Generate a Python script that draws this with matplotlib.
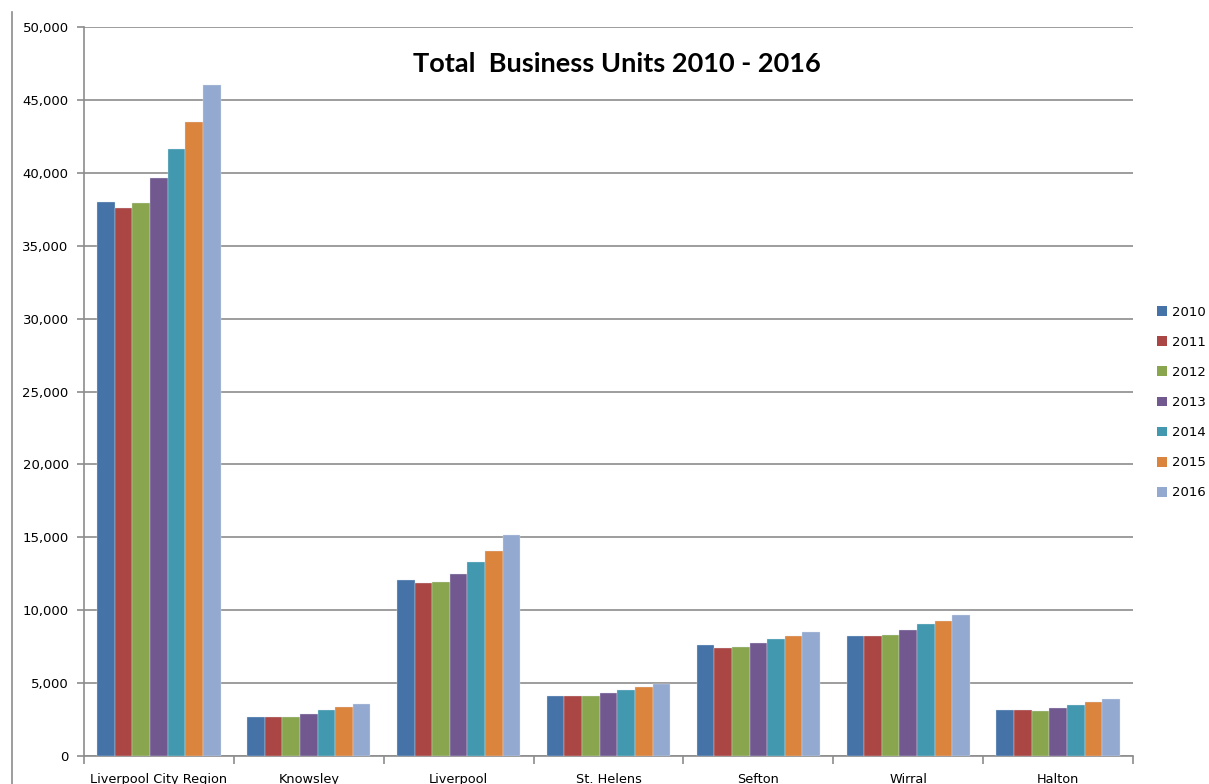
import matplotlib
matplotlib.use("Agg")
import matplotlib.pyplot as plt
from matplotlib.lines import Line2D
from matplotlib.patches import Patch
from matplotlib.ticker import FuncFormatter, MultipleLocator
import numpy as np

areas = ["Liverpool City Region", "Knowsley", "Liverpool", "St. Helens",
         "Sefton", "Wirral", "Halton"]
years = ["2010", "2011", "2012", "2013", "2014", "2015", "2016"]

units_2010 = [38020, 2680, 12050, 4140, 7590, 8210, 3130]
units_2011 = [37590, 2680, 11870, 4140, 7390, 8210, 3130]
units_2012 = [37930, 2680, 11960, 4140, 7480, 8320, 3110]
units_2013 = [39660, 2860, 12500, 4300, 7770, 8660, 3310]
units_2014 = [41650, 3130, 13310, 4510, 8030, 9030, 3480]
units_2015 = [43480, 3340, 14040, 4750, 8210, 9280, 3680]
units_2016 = [46040, 3590, 15140, 4960, 8490, 9670, 3930]

series = [units_2010, units_2011, units_2012, units_2013,
          units_2014, units_2015, units_2016]
colors = ["#4572A7", "#AA4643", "#89A54E", "#71588F",
          "#4198AF", "#DB843D", "#93A9CF"]

fig = plt.figure(figsize=(12.09, 7.84), dpi=100)
ax = fig.add_axes([84 / 1209, 1 - 756 / 784, (1133 - 84) / 1209, (756 - 27) / 784])

n = len(series)
bar_w = 1.0 / (n + 1.5)
x = np.arange(len(areas))
for i, (vals, c) in enumerate(zip(series, colors)):
    offs = (i - (n - 1) / 2) * bar_w
    ax.bar(x + offs, vals, width=bar_w, color=c, edgecolor="#dfe5ee",
           linewidth=0.25, zorder=3, label=years[i])

ax.set_xlim(-0.5, len(areas) - 0.5)
ax.set_ylim(0, 50000)
ax.yaxis.set_major_locator(MultipleLocator(5000))
ax.yaxis.set_major_formatter(FuncFormatter(lambda v, p: f"{int(v):,}"))
ax.grid(axis="y", color="#8c8c8c", linewidth=1.2, zorder=0)
ax.set_axisbelow(True)

for s in ["top", "right"]:
    ax.spines[s].set_visible(False)
for s in ["left", "bottom"]:
    ax.spines[s].set_color("#8c8c8c")
    ax.spines[s].set_linewidth(1.2)

ax.set_xticks(np.arange(len(areas) + 1) - 0.5)
ax.set_xticklabels([])
ax.set_xticks(x, minor=True)
ax.set_xticklabels(areas, minor=True)
ax.tick_params(axis="x", which="major", direction="out", length=6,
               color="#8c8c8c", width=1.2)
ax.tick_params(axis="x", which="minor", length=0, pad=12, labelsize=9.3)
ax.tick_params(axis="y", direction="out", length=5, color="#8c8c8c",
               width=1.2, pad=6, labelsize=9.5)

fig.text(617 / 1209, 1 - 64 / 784, "Total  Business Units 2010 - 2016",
         ha="center", va="center", fontsize=19.5, fontweight="bold",
         family="Lato")

handles = [Patch(facecolor=c, edgecolor="none") for c in colors]
fig.legend(handles, years, loc="center left",
           bbox_to_anchor=(1157 / 1209, 1 - 402.5 / 784), frameon=False,
           fontsize=9.5, handlelength=0.75, handleheight=0.75,
           handletextpad=0.35, labelspacing=1.3, borderpad=0,
           borderaxespad=0)

fig.add_artist(Line2D([12 / 1209, 12 / 1209], [0, 1 - 12 / 784],
                      color="#8c8c8c", linewidth=1.2))

fig.savefig("out.png", dpi=100)
